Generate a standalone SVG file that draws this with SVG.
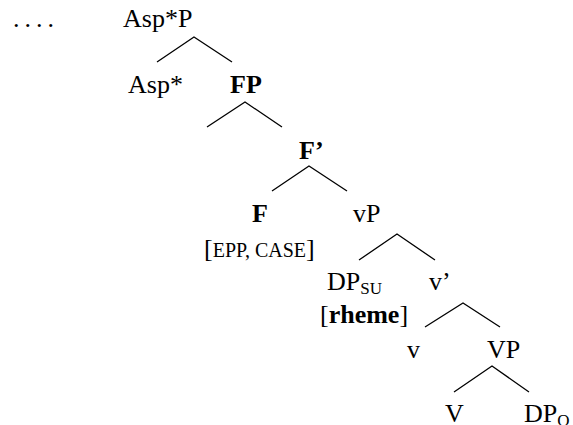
<svg xmlns="http://www.w3.org/2000/svg" width="573" height="425" viewBox="0 0 573 425">
<style>
text{font-family:"Liberation Serif","Times New Roman",serif;font-size:26px;fill:#000}
.b{font-weight:bold}
.sc{font-size:20px}
.sub{font-size:17px}
.edge{fill:none;stroke:#000;stroke-width:1.3}
</style>
<rect width="573" height="425" fill="#fff"/>
<text x="13" y="27" letter-spacing="5">....</text>
<g id="AspStarP"><text x="123" y="27">Asp*P</text></g>
<g id="AspStar"><text x="128" y="93">Asp*</text></g>
<g id="FP"><text class="b" x="230" y="93">FP</text></g>
<g id="Fbar"><text class="b" x="299" y="159">F’</text></g>
<g id="F"><text class="b" x="252" y="222">F</text><text x="204" y="257">[<tspan class="sc">EPP, CASE</tspan>]</text></g>
<g id="vP"><text x="353" y="222">vP</text></g>
<g id="DPsu"><text x="327" y="290">DP<tspan class="sub" dy="4">SU</tspan></text><text x="320" y="323">[<tspan class="b">rheme</tspan>]</text></g>
<g id="vbar"><text x="429" y="290">v’</text></g>
<g id="v"><text x="407" y="358">v</text></g>
<g id="VP"><text x="487" y="358">VP</text></g>
<g id="V"><text x="445" y="422">V</text></g>
<g id="DPo"><text x="524" y="422">DP<tspan class="sub" dy="4">O</tspan></text></g>
<g id="connectors">
<polyline class="edge" points="157,62 194,37 232,62"/>
<polyline class="edge" points="207,127 245,102 282,127"/>
<polyline class="edge" points="272,191 309,166 347,191"/>
<polyline class="edge" points="359,260 397,234 435,260"/>
<polyline class="edge" points="425,327 463,303 500,327"/>
<polyline class="edge" points="454,392 492,366 529,392"/>
</g>
</svg>
